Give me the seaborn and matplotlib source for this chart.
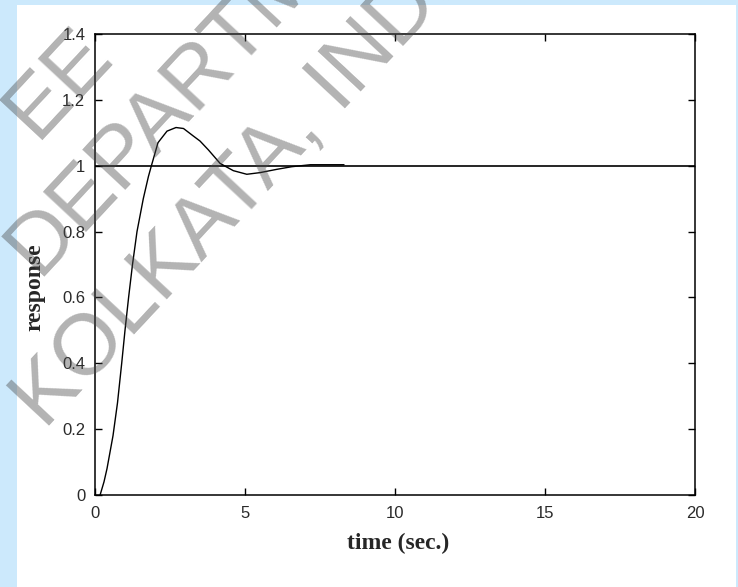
import matplotlib
matplotlib.use("Agg")
import matplotlib.pyplot as plt
import matplotlib.patches as mpatches
import seaborn as sns
import pandas as pd

# Step response
tempo = [0.17, 0.30, 0.40, 0.60, 0.75, 0.89, 1.00, 1.12, 1.25, 1.40, 1.61, 1.78,
         1.88, 2.10, 2.40, 2.70, 2.95, 3.28, 3.50, 3.78, 4.17, 4.61, 5.06, 5.50,
         6.06, 6.56, 7.18, 8.30]
resposta = [0.0, 0.04, 0.08, 0.18, 0.28, 0.40, 0.50, 0.60, 0.70, 0.80, 0.90, 0.967,
            1.0, 1.07, 1.105, 1.116, 1.113, 1.090, 1.075, 1.048, 1.007, 0.985, 0.974,
            0.979, 0.989, 0.997, 1.003, 1.003]
referencia = 1.0

xticks = [0, 5, 10, 15, 20]
xtick_labels = ["0", "5", "10", "15", "20"]
yticks = [0, 0.2, 0.4, 0.6, 0.8, 1.0, 1.2, 1.4]
ytick_labels = ["0", "0.2", "0.4", "0.6", "0.8", "1", "1.2", "1.4"]

marca = ["EE", "DEPARTMENT,", "KOLKATA, INDIA"]

df = pd.DataFrame({"t": tempo, "y": resposta})

sns.set_theme(style="ticks")
plt.rcParams["font.family"] = ["Liberation Sans", "DejaVu Sans"]

W, H = 738, 587
fig = plt.figure(figsize=(W / 100, H / 100), dpi=100)
fig.patch.set_facecolor("#cce9fc")
fundo = mpatches.Rectangle((17 / W, 0), (736 - 17) / W, 1 - 5 / H,
                           transform=fig.transFigure, facecolor="white",
                           edgecolor="none", zorder=-5)
fig.add_artist(fundo)

ax = fig.add_axes([95 / W, 1 - 495 / H, 600 / W, (495 - 34) / H])
ax.set_zorder(1)
ax.set_facecolor("white")
sns.lineplot(data=df, x="t", y="y", ax=ax, color="black", linewidth=1.0)
ax.axhline(referencia, color="black", linewidth=1.2)

ax.set_xlim(0, 20)
ax.set_ylim(0, 1.4)
ax.set_xticks(xticks)
ax.set_xticklabels(xtick_labels)
ax.set_yticks(yticks)
ax.set_yticklabels(ytick_labels)
ax.tick_params(direction="in", length=5, width=1, top=True, right=True,
               labelsize=12, labelcolor="#2a2a2a", color="black")
ax.tick_params(axis="x", pad=8)
ax.tick_params(axis="y", pad=7)
for s in ax.spines.values():
    s.set_linewidth(1.1)
    s.set_color("black")

ax.set_xlabel("")
ax.set_ylabel("")
fig.text(398 / W, 1 - 543 / H, "time (sec.)", ha="center", va="center",
         fontsize=17, fontweight="bold", family="Liberation Serif")
fig.text(35 / W, 1 - 287 / H, "response", ha="center", va="center", rotation=90,
         fontsize=17, fontweight="bold", family="Liberation Serif", zorder=5)

# watermark
inicio = [(36, 140), (38, 276), (45, 430)]
for txt, (px, py) in zip(marca, inicio):
    fig.text(px / W, 1 - py / H, txt, rotation=47, rotation_mode="anchor",
             ha="left", va="baseline", fontsize=62, color="#4a4a4a", alpha=0.42,
             family="Liberation Sans", zorder=10)

plt.savefig("out.png", dpi=100)
